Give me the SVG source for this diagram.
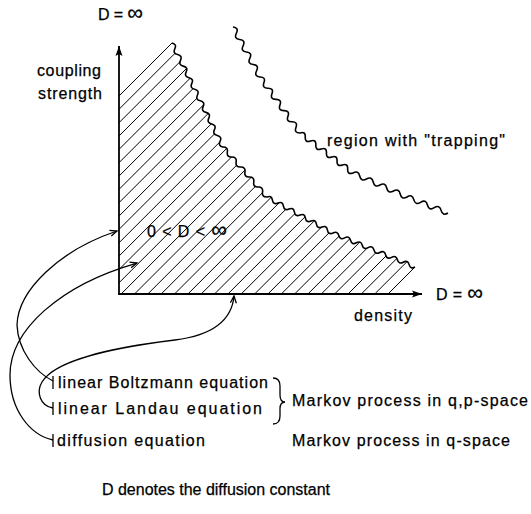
<svg xmlns="http://www.w3.org/2000/svg" width="531" height="514" viewBox="0 0 531 514">
<style>
text{font-family:"Liberation Sans",Arial,sans-serif;font-size:16px;fill:#000;stroke:#000;stroke-width:0.25}
.inf{font-size:22px}
.ax{stroke:#000;stroke-width:1.8;fill:none}
.hatch{stroke:#000;stroke-width:1;fill:none}
.wave{stroke:#000;stroke-width:1.6;fill:none;stroke-linejoin:round}
.con{stroke:#000;stroke-width:1.3;fill:none}
.tick{stroke:#000;stroke-width:1.3}
</style>
<defs>
<marker id="axarrow" markerUnits="userSpaceOnUse" markerWidth="12" markerHeight="8" refX="10" refY="3.5" orient="auto" overflow="visible">
<path d="M0,0 L10,3.5 L0,7 L2,3.5 Z" fill="#000"/>
</marker>
<marker id="arr" markerUnits="userSpaceOnUse" markerWidth="9" markerHeight="8" refX="7" refY="3" orient="auto" overflow="visible">
<path d="M0,0 L7,3 L0,6" fill="none" stroke="#000" stroke-width="1.3"/>
</marker>
<clipPath id="regionclip">
<path d="M119,294 L119,38 L172,38 L172,43
q5.01,1.13 2.83,5.78 q-2.17,4.65 2.83,5.78 q5.01,1.13 2.83,5.78 q-2.17,4.65 2.83,5.78 q5.01,1.13 2.83,5.78 q-2.17,4.65 2.83,5.78 q5.01,1.13 2.83,5.78 q-2.17,4.65 2.83,5.78 q5.01,1.13 2.83,5.78 q-2.17,4.65 2.83,5.78 q5.01,1.13 2.83,5.78 q-2.17,4.65 2.83,5.78 q5.01,1.13 2.83,5.78 q-2.17,4.65 2.83,5.78 q5.01,1.13 2.83,5.78 q-2.17,4.65 2.83,5.78 q5.01,1.13 2.83,5.78 q-2.17,4.65 2.83,5.78
q5.2,-0.14 4.4,5 q-0.8,5.14 4.4,5 q5.2,-0.14 4.4,5 q-0.8,5.14 4.4,5 q5.2,-0.14 4.4,5 q-0.8,5.14 4.4,5 q5.2,-0.14 4.4,5 q-0.8,5.14 4.4,5 q5.2,-0.14 4.4,5 q-0.8,5.14 4.4,5
q4.67,-2.01 5.5,3 q0.83,5.01 5.5,3 q4.67,-2.01 5.5,3 q0.83,5.01 5.5,3 q4.67,-2.01 5.5,3 q0.83,5.01 5.5,3 q4.67,-2.01 5.5,3 q0.83,5.01 5.5,3 q4.67,-2.01 5.5,3 q0.83,5.01 5.5,3 q4.67,-2.01 5.5,3 q0.83,5.01 5.5,3
q4.46,-2.48 5.86,2.43 q1.4,4.9 5.86,2.43 q4.46,-2.48 5.86,2.43 q1.4,4.9 5.86,2.43 q4.46,-2.48 5.86,2.43 q1.4,4.9 5.86,2.43 q4.46,-2.48 5.86,2.43 q1.4,4.9 5.86,2.43 q4.46,-2.48 5.86,2.43 q1.4,4.9 5.86,2.43 q4.46,-2.48 5.86,2.43 q1.4,4.9 5.86,2.43 q4.46,-2.48 5.86,2.43 q1.4,4.9 5.86,2.43
L430,267 L430,294 Z"/>
</clipPath>
</defs>
<rect width="531" height="514" fill="#fff"/>

<g id="hatched-region">
<path class="hatch" clip-path="url(#regionclip)" d="M-85,300L175,40 M-71.7,300L188.3,40 M-58.3,300L201.7,40 M-45,300L215,40 M-31.6,300L228.4,40 M-18.3,300L241.7,40 M-4.9,300L255.1,40 M8.4,300L268.4,40 M21.7,300L281.7,40 M35.1,300L295.1,40 M48.4,300L308.4,40 M61.8,300L321.8,40 M75.1,300L335.1,40 M88.5,300L348.5,40 M101.8,300L361.8,40 M115.1,300L375.1,40 M128.5,300L388.5,40 M141.8,300L401.8,40 M155.2,300L415.2,40 M168.5,300L428.5,40 M181.9,300L441.9,40 M195.2,300L455.2,40 M208.5,300L468.5,40 M221.9,300L481.9,40 M235.2,300L495.2,40 M248.6,300L508.6,40 M261.9,300L521.9,40 M275.3,300L535.3,40 M288.6,300L548.6,40 M301.9,300L561.9,40 M315.3,300L575.3,40 M328.6,300L588.6,40 M342,300L602,40 M355.3,300L615.3,40 M368.7,300L628.7,40 M382,300L642,40"/>
<path class="wave" d="M172,43
q5.01,1.13 2.83,5.78 q-2.17,4.65 2.83,5.78 q5.01,1.13 2.83,5.78 q-2.17,4.65 2.83,5.78 q5.01,1.13 2.83,5.78 q-2.17,4.65 2.83,5.78 q5.01,1.13 2.83,5.78 q-2.17,4.65 2.83,5.78 q5.01,1.13 2.83,5.78 q-2.17,4.65 2.83,5.78 q5.01,1.13 2.83,5.78 q-2.17,4.65 2.83,5.78 q5.01,1.13 2.83,5.78 q-2.17,4.65 2.83,5.78 q5.01,1.13 2.83,5.78 q-2.17,4.65 2.83,5.78 q5.01,1.13 2.83,5.78 q-2.17,4.65 2.83,5.78
q5.2,-0.14 4.4,5 q-0.8,5.14 4.4,5 q5.2,-0.14 4.4,5 q-0.8,5.14 4.4,5 q5.2,-0.14 4.4,5 q-0.8,5.14 4.4,5 q5.2,-0.14 4.4,5 q-0.8,5.14 4.4,5 q5.2,-0.14 4.4,5 q-0.8,5.14 4.4,5
q4.67,-2.01 5.5,3 q0.83,5.01 5.5,3 q4.67,-2.01 5.5,3 q0.83,5.01 5.5,3 q4.67,-2.01 5.5,3 q0.83,5.01 5.5,3 q4.67,-2.01 5.5,3 q0.83,5.01 5.5,3 q4.67,-2.01 5.5,3 q0.83,5.01 5.5,3 q4.67,-2.01 5.5,3 q0.83,5.01 5.5,3
q4.46,-2.48 5.86,2.43 q1.4,4.9 5.86,2.43 q4.46,-2.48 5.86,2.43 q1.4,4.9 5.86,2.43 q4.46,-2.48 5.86,2.43 q1.4,4.9 5.86,2.43 q4.46,-2.48 5.86,2.43 q1.4,4.9 5.86,2.43 q4.46,-2.48 5.86,2.43 q1.4,4.9 5.86,2.43 q4.46,-2.48 5.86,2.43 q1.4,4.9 5.86,2.43 q4.46,-2.48 5.86,2.43 q1.4,4.9 5.86,2.43"/>
<text x="147" y="237" font-size="17" textLength="80" lengthAdjust="spacing">0 &lt; D &lt; <tspan class="inf">∞</tspan></text>
</g>

<g id="trapping-boundary">
<path class="wave" d="M233,27
q6.09,0.74 3.37,6.25 q-2.71,5.5 3.37,6.25 q6.09,0.74 3.37,6.25 q-2.71,5.5 3.37,6.25 q6.09,0.74 3.37,6.25 q-2.71,5.5 3.37,6.25 q6.09,0.74 3.37,6.25 q-2.71,5.5 3.37,6.25
q6.07,-0.1 4,5.6 q-2.07,5.7 4,5.6 q6.07,-0.1 4,5.6 q-2.07,5.7 4,5.6 q6.07,-0.1 4,5.6 q-2.07,5.7 4,5.6 q6.07,-0.1 4,5.6 q-2.07,5.7 4,5.6 q6.07,-0.1 4,5.6 q-2.07,5.7 4,5.6
q5.66,-1.99 5.3,4 q-0.36,5.99 5.3,4 q5.66,-1.99 5.3,4 q-0.36,5.99 5.3,4 q5.66,-1.99 5.3,4 q-0.36,5.99 5.3,4 q5.66,-1.99 5.3,4 q-0.36,5.99 5.3,4 q5.66,-1.99 5.3,4 q-0.36,5.99 5.3,4
q5.4,-3.07 6.75,3 q1.35,6.07 6.75,3 q5.4,-3.07 6.75,3 q1.35,6.07 6.75,3 q5.4,-3.07 6.75,3 q1.35,6.07 6.75,3 q5.4,-3.07 6.75,3 q1.35,6.07 6.75,3
q5.24,-3.33 6.83,2.67 q1.6,5.99 6.83,2.67 q5.24,-3.33 6.83,2.67 q1.6,5.99 6.83,2.67 q5.24,-3.33 6.83,2.67 q1.6,5.99 6.83,2.67"/>
<text x="327" y="146" textLength="178" lengthAdjust="spacing">region with "trapping"</text>
</g>

<g id="axes">
<line class="ax" x1="119" y1="295" x2="119" y2="46" marker-end="url(#axarrow)"/>
<line class="ax" x1="118" y1="294" x2="422" y2="294" marker-end="url(#axarrow)"/>
</g>

<g id="label-top-D">
<text x="98" y="20" textLength="45" lengthAdjust="spacing">D = <tspan class="inf">∞</tspan></text>
</g>
<g id="label-coupling">
<text x="37" y="76" textLength="64" lengthAdjust="spacing">coupling</text>
<text x="38" y="99" textLength="64" lengthAdjust="spacing">strength</text>
</g>
<g id="label-right-D">
<text x="436" y="300" textLength="47" lengthAdjust="spacing">D = <tspan class="inf">∞</tspan></text>
</g>
<g id="label-density">
<text x="354" y="321" textLength="58" lengthAdjust="spacing">density</text>
</g>

<g id="node-boltzmann">
<line class="tick" x1="53" y1="376" x2="53" y2="389"/>
<text x="58" y="388" textLength="210" lengthAdjust="spacing">linear Boltzmann equation</text>
</g>
<g id="node-landau">
<line class="tick" x1="53" y1="402" x2="53" y2="415"/>
<text x="58" y="414" textLength="204" lengthAdjust="spacing">linear Landau equation</text>
</g>
<g id="node-diffusion">
<line class="tick" x1="53" y1="434" x2="53" y2="447"/>
<text x="57" y="446" textLength="148" lengthAdjust="spacing">diffusion equation</text>
</g>
<g id="node-markov-qp">
<path class="con" d="M273,378 Q280,378 280,386 L280,395 Q280,402 285,402 Q280,402 280,409 L280,416 Q280,424 273,424"/>
<text x="292" y="406" textLength="236" lengthAdjust="spacing">Markov process in q,p-space</text>
</g>
<g id="node-markov-q">
<text x="292" y="446" textLength="218" lengthAdjust="spacing">Markov process in q-space</text>
</g>
<g id="footnote">
<text x="102" y="495" textLength="228" lengthAdjust="spacing">D denotes the diffusion constant</text>
</g>

<g id="connectors">
<path class="con" d="M53,381 C35,372 18,350 17,325 C18,290 60,250 117,231" marker-end="url(#arr)"/>
<path class="con" d="M53,408 C40,406 36,392 42,382 C55,360 110,348 175,340 C215,335 232,318 234,296" marker-end="url(#arr)"/>
<path class="con" d="M53,440 C30,435 10,410 10,375 C10,330 60,285 137,263" marker-end="url(#arr)"/>
</g>
</svg>
